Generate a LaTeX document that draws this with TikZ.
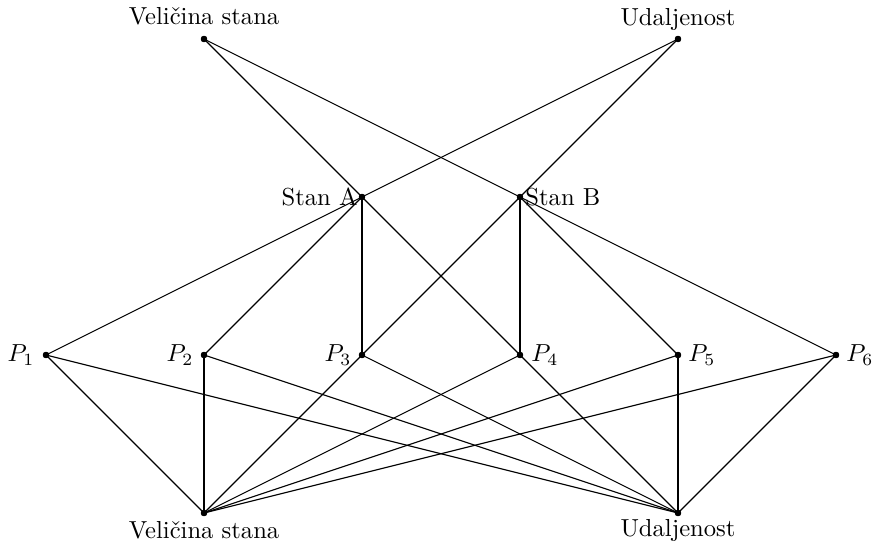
\documentclass[tikz,border=0pt]{standalone}
\begin{document}
\begin{tikzpicture}[x=0.4065pt,y=-0.4065pt,
  dot/.style={circle,fill=black,inner sep=0pt,minimum size=2.6pt},
  lbl/.style={inner sep=0pt},
  edge/.style={line width=0.45pt}]
\useasboundingbox (0,0) rectangle (872,547);
% vertices
\node[dot] (tv) at (204,39) {};
\node[dot] (tu) at (678,39) {};
\node[dot] (sa) at (362,197) {};
\node[dot] (sb) at (520,197) {};
\foreach \i/\x in {1/46,2/204,3/362,4/520,5/678,6/836}
  \node[dot] (p\i) at (\x,355) {};
\node[dot] (bv) at (204,513) {};
\node[dot] (bu) at (678,513) {};
% labels
\node[lbl,anchor=base] (ltv) at (204,25) {Veličina stana};
\node[lbl,anchor=base] (ltu) at (678,26) {Udaljenost};
\node[lbl,anchor=east] (lsa) at (358,197) {Stan A};
\node[lbl,anchor=west] (lsb) at (525,197) {Stan B};
\node[lbl,anchor=east] (lp1) at (35,355) {$P_1$};
\node[lbl,anchor=east] (lp2) at (194,355) {$P_2$};
\node[lbl,anchor=east] (lp3) at (352,355) {$P_3$};
\node[lbl,anchor=west] (lp4) at (531,355) {$P_4$};
\node[lbl,anchor=west] (lp5) at (688,355) {$P_5$};
\node[lbl,anchor=west] (lp6) at (846,355) {$P_6$};
\node[lbl,anchor=base] (lbv) at (204,538) {Veličina stana};
\node[lbl,anchor=base] (lbu) at (678,536) {Udaljenost};
% connectors
\foreach \a in {tv,tu}
  \foreach \b in {sa,sb}
    \draw[edge] (\a.center) -- (\b.center);
\foreach \p in {p1,p2,p3,p4}
  \draw[edge] (sa.center) -- (\p.center);
\foreach \p in {p3,p4,p5,p6}
  \draw[edge] (sb.center) -- (\p.center);
\foreach \p in {p1,p2,p3,p4,p5,p6}{
  \draw[edge] (\p.center) -- (bv.center);
  \draw[edge] (\p.center) -- (bu.center);
}
% dots on top of the lines
\foreach \n in {tv,tu,sa,sb,p1,p2,p3,p4,p5,p6,bv,bu}
  \fill (\n.center) circle (1.3pt);
\end{tikzpicture}
\end{document}
